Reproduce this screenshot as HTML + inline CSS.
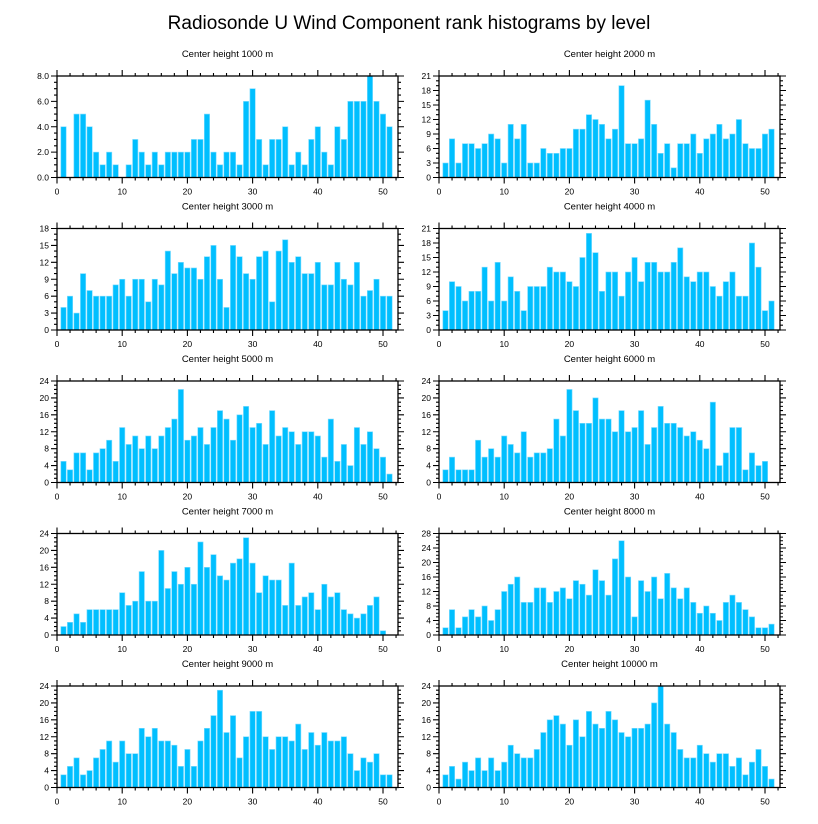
<!DOCTYPE html>
<html><head><meta charset="utf-8"><style>
html,body{margin:0;padding:0;background:#fff;}
svg{display:block;font-family:"Liberation Sans",sans-serif;}
</style></head><body>
<svg id="c" width="818" height="824" viewBox="0 0 818 824">
<text x="409" y="29" text-anchor="middle" font-size="19">Radiosonde U Wind Component rank histograms by level</text>
</svg>
<script>
const levels = [1000,2000,3000,4000,5000,6000,7000,8000,9000,10000];
const yMaxes = [8,21,18,21,24,24,24,28,24,24];
const yMajors = [2,3,3,3,4,4,4,4,4,4];
const yMinors = [0.5,1,1,1,1,1,1,1,1,1];
const xTicks = [0,10,20,30,40,50];
const s1000 = [4,0,5,5,4,2,1,2,1,0,1,3,2,1,2,1,2,2,2,2,3,3,5,2,1,2,2,1,6,7,3,1,3,3,4,1,2,1,3,4,2,1,4,3,6,6,6,8,6,5,4];
const s2000 = [3,8,3,7,7,6,7,9,8,3,11,8,11,3,3,6,5,5,6,6,10,10,13,12,11,8,10,19,7,7,8,16,11,5,7,2,7,7,9,5,8,9,11,8,9,12,7,6,6,9,10];
const s3000 = [4,6,3,10,7,6,6,6,8,9,6,9,9,5,9,8,14,10,12,11,11,9,13,15,9,4,15,13,10,9,13,14,5,14,16,12,13,10,10,12,8,8,12,9,8,12,6,7,9,6,6];
const s4000 = [4,10,9,6,8,8,13,6,14,6,11,8,4,9,9,9,13,12,12,10,9,15,20,16,8,12,12,7,12,15,10,14,14,12,12,14,17,11,10,12,12,9,7,10,12,7,7,18,13,4,6];
const s5000 = [5,3,7,7,3,7,8,10,5,13,9,11,8,11,8,11,13,15,22,10,11,13,9,13,17,15,10,16,18,13,14,9,17,11,13,12,9,12,12,11,6,15,5,9,4,13,9,12,8,6,2];
const s6000 = [3,6,3,3,3,10,6,8,6,11,9,7,12,6,7,7,8,15,11,22,17,14,14,20,15,15,12,17,12,13,17,9,13,18,14,14,13,11,12,10,8,19,4,7,13,13,3,7,4,5];
const s7000 = [2,3,5,3,6,6,6,6,6,10,7,8,15,8,8,20,11,15,12,16,12,22,16,19,14,13,17,18,23,17,10,14,13,13,7,17,7,9,10,6,12,9,10,6,5,4,5,7,9,1];
const s8000 = [2,7,2,5,7,5,8,4,7,12,14,16,9,9,13,13,9,12,13,10,15,14,11,18,15,11,21,26,16,5,15,12,16,10,17,13,10,13,9,6,8,6,4,9,11,9,7,5,2,2,3];
const s9000 = [3,5,7,3,4,7,9,11,6,11,8,8,14,12,14,11,11,10,5,9,5,11,14,17,23,13,17,7,12,18,18,12,9,12,12,11,15,9,13,10,13,11,11,12,8,4,7,6,8,3,3];
const s10000 = [3,5,2,6,4,7,4,7,4,6,10,8,7,7,9,13,16,17,15,10,16,12,18,15,14,18,16,13,12,14,14,15,20,24,15,13,9,7,7,10,8,6,8,8,5,7,3,6,9,5,2];
const series = [s1000,s2000,s3000,s4000,s5000,s6000,s7000,s8000,s9000,s10000];

const NS='http://www.w3.org/2000/svg';
const svg=document.getElementById('c');
const XMAX=52.3, PW=341, PH=101.5;
const colX=[57,439], rowY=[76,228.5,381,533.5,686];
function mk(tag,attrs,parent){const e=document.createElementNS(NS,tag);for(const k in attrs)e.setAttribute(k,attrs[k]);(parent||svg).appendChild(e);return e;}

series.forEach((vals,p)=>{
  const x0=colX[p%2], y0=rowY[Math.floor(p/2)];
  const ymax=yMaxes[p];
  const sx=v=>x0+v/XMAX*PW;
  const sy=v=>y0+PH-v/ymax*PH;
  const g=mk('g',{});
  
  
  const t=mk('text',{x:x0+PW/2,y:y0-19,'text-anchor':'middle','font-size':'9.5'},g);
  t.textContent='Center height '+levels[p]+' m';
  
  
  const bw=0.82/XMAX*PW;
  vals.forEach((v,i)=>{
    if(v<=0)return;
    const r=mk('rect',{x:sx(i+1)-bw/2,y:sy(v),width:bw,height:sy(0)-sy(v),fill:'#00bfff',stroke:'#7fdcff','stroke-width':'0.6'},g);
    
    
  });
  const f=mk('rect',{x:x0,y:y0,width:PW,height:PH,fill:'none',stroke:'#000','stroke-width':'1.3'},g);
  
  
  let d='';
  for(let v=0;v<=XMAX;v+=2){const X=sx(v);const L=(v%10===0)?6:3;d+=`M${X} ${y0+PH}v${L}M${X} ${y0}v${-L}`;}
  const nmin=Math.round(ymax/yMinors[p]);
  for(let k=0;k<=nmin;k++){const v=k*yMinors[p];const Y=sy(v);const maj=Math.abs(v/yMajors[p]-Math.round(v/yMajors[p]))<1e-6;const L=maj?6:3;d+=`M${x0} ${Y}h${-L}M${x0+PW} ${Y}h${L}`;}
  const tk=mk('path',{d:d,stroke:'#000','stroke-width':'1.1',fill:'none'},g);
  
  
  xTicks.forEach(v=>{
    const l=mk('text',{x:sx(v),y:y0+PH+17,'text-anchor':'middle','font-size':'8.5'},g);
    l.textContent=v;
    
    
  });
  for(let v=0;v<=ymax+1e-6;v+=yMajors[p]){
    const l=mk('text',{x:x0-8,y:sy(v)+3,'text-anchor':'end','font-size':'8.5'},g);
    l.textContent=p===0?v.toFixed(1):v;
    
    
  }
});
</script>
</body></html>
